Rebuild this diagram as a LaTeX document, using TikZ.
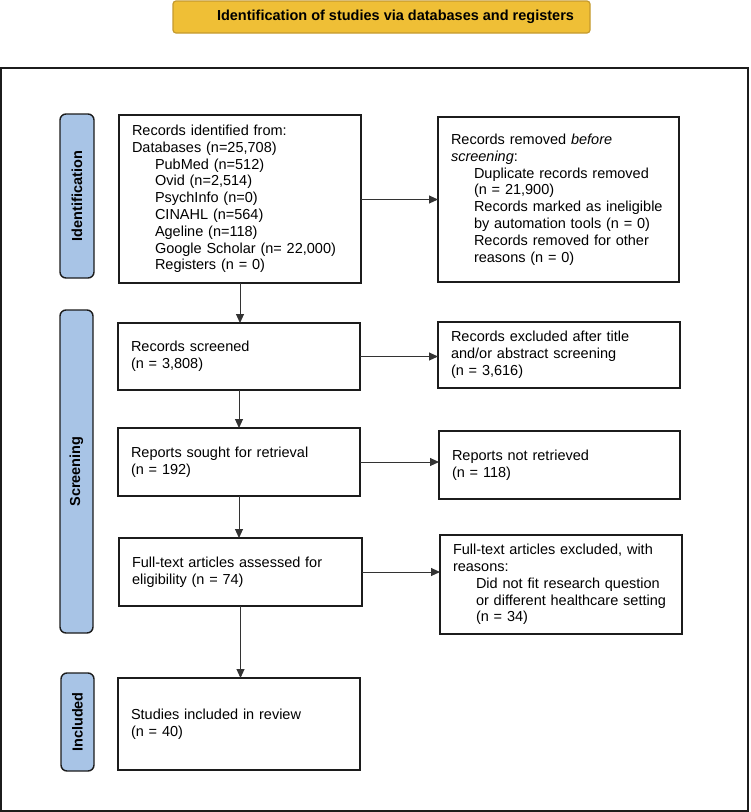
\documentclass[tikz,border=0pt]{standalone}
\usepackage{fontspec}
\setmainfont{Liberation Sans}
\usetikzlibrary{arrows.meta}
\definecolor{hdrfill}{HTML}{EFBF36}
\definecolor{hdrdraw}{HTML}{C49A2E}
\definecolor{sidefill}{HTML}{A8C4E6}
\definecolor{edge}{HTML}{1C1C1C}
\definecolor{conn}{HTML}{333333}
\tikzset{
  basefont/.style={font=\fontsize{14.5}{16.8}\selectfont},
  flowbox/.style={draw=edge, line width=1.4pt, fill=white, basefont, align=left,
    inner xsep=13pt, inner ysep=0pt, outer sep=0pt, anchor=center},
  sidebox/.style={draw=edge, line width=1.4pt, fill=sidefill, rounded corners=6pt,
    basefont, font=\fontsize{14.5}{16.8}\selectfont\bfseries, rotate=90,
    inner sep=0pt, outer sep=0pt, anchor=center},
  hdrbox/.style={draw=hdrdraw, line width=1.2pt, fill=hdrfill, rounded corners=3pt,
    font=\fontsize{14.5}{16.8}\selectfont\bfseries, inner sep=0pt, outer sep=0pt, anchor=center},
  conarrow/.style={draw=conn, line width=1pt, -{Triangle[length=9pt,width=8pt]}},
}
\newcommand{\ind}{\hspace*{23pt}}
\begin{document}
\begin{tikzpicture}[x=1pt,y=-1pt]
\useasboundingbox (0,0) rectangle (751,812);
% outer frame
\draw[edge, line width=1.4pt] (1,68) rectangle (748,811);
% header
\node[hdrbox, minimum width=417pt, minimum height=32pt] (hdr) at (381.5,17)
  {\hspace*{28pt}Identification of studies via databases and registers};
% side labels
\node[sidebox, minimum width=164pt, minimum height=34pt] (lid) at (77,196) {Identification};
\node[sidebox, minimum width=323pt, minimum height=33pt] (lsc) at (76.5,471.5) {Screening};
\node[sidebox, minimum width=98pt, minimum height=33pt] (lin) at (77.5,722) {Included};
% boxes
\node[flowbox, text width=216pt, minimum height=168pt] (idb) at (240,199)
  {Records identified from:\\
   Databases (n=25,708)\\
   \ind PubMed (n=512)\\
   \ind Ovid (n=2,514)\\
   \ind PsychInfo (n=0)\\
   \ind CINAHL (n=564)\\
   \ind Ageline (n=118)\\
   \ind Google Scholar (n= 22,000)\\
   \ind Registers (n = 0)};
\node[flowbox, text width=215pt, minimum height=165pt] (rem) at (558.5,199.5)
  {Records removed \textit{before}\\
   \textit{screening}:\\
   \ind Duplicate records removed\\
   \ind (n = 21,900)\\
   \ind Records marked as ineligible\\
   \ind by automation tools (n = 0)\\
   \ind Records removed for other\\
   \ind reasons (n = 0)};
\node[flowbox, text width=216pt, minimum height=67pt] (scr) at (239,356.5)
  {Records screened\\(n = 3,808)};
\node[flowbox, text width=216pt, minimum height=66pt] (exc) at (559,355)
  {Records excluded after title\\and/or abstract screening\\(n = 3,616)};
\node[flowbox, text width=216pt, minimum height=68pt] (sou) at (239,462)
  {Reports sought for retrieval\\(n = 192)};
\node[flowbox, text width=215pt, minimum height=68pt] (nrt) at (559.5,465)
  {Reports not retrieved\\(n = 118)};
\node[flowbox, text width=217pt, minimum height=68pt] (fta) at (240.5,572)
  {Full-text articles assessed for\\eligibility (n = 74)};
\node[flowbox, text width=216pt, minimum height=99pt] (fte) at (561,584.5)
  {Full-text articles excluded, with\\
   reasons:\\
   \ind Did not fit research question\\
   \ind or different healthcare setting\\
   \ind (n = 34)};
\node[flowbox, text width=216pt, minimum height=92pt] (inc) at (239,724)
  {Studies included in review\\(n = 40)};
% connectors
\draw[conarrow] (idb.south) -- (idb.south |- scr.north);
\draw[conarrow] (scr.south) -- (scr.south |- sou.north);
\draw[conarrow] (sou.south) -- (sou.south |- fta.north);
\draw[conarrow] (fta.south) -- (fta.south |- inc.north);
\draw[conarrow] (rem.west -| idb.east) -- (rem.west);
\draw[conarrow] (scr.east) -- (scr.east -| exc.west);
\draw[conarrow] (sou.east) -- (sou.east -| nrt.west);
\draw[conarrow] (fta.east) -- (fta.east -| fte.west);
\end{tikzpicture}
\end{document}
